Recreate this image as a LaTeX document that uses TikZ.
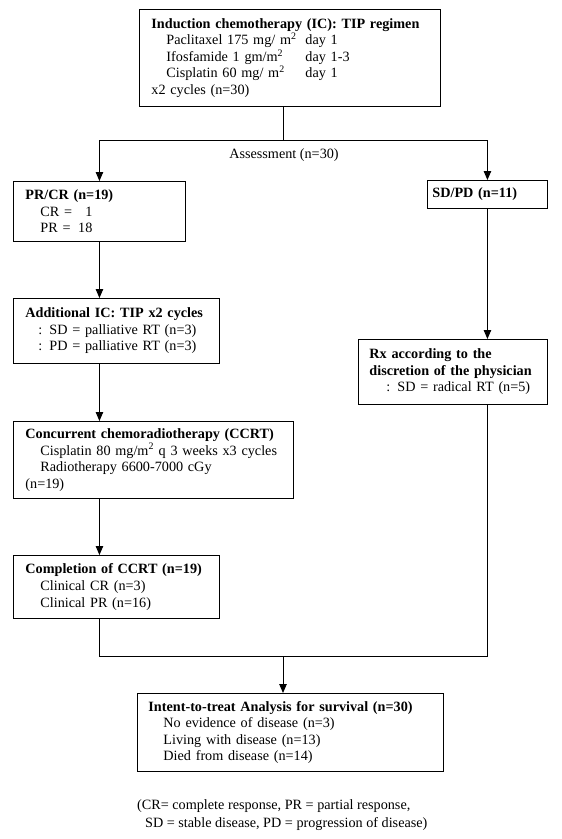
\documentclass[tikz,border=0pt]{standalone}
\usepackage{fontspec}
\setmainfont{Liberation Serif}
\usetikzlibrary{arrows.meta,calc}
\setlength{\parindent}{0pt}
\tikzset{
    block/.style = {draw, rectangle, line width=0.9pt,
        anchor=north west, align=left,
        inner xsep=12pt, inner ysep=0pt,
        font=\fontsize{14.2}{16.6}\selectfont},
    arrow/.style = {draw, line width=0.9pt, -{Triangle[length=9pt,width=7.5pt]}},
    line/.style = {draw, line width=0.9pt},
    plaintext/.style = {align=left, font=\fontsize{14.2}{16.6}\selectfont}
}
\newcommand{\subind}{\hspace*{15pt}}
\newcommand{\msq}{m\textsuperscript{2}}

\begin{document}
\begin{tikzpicture}[x=1pt,y=-1pt]
                \useasboundingbox (0,0) rectangle (562,839);
                % boxes
                \node[block, text width=277pt, minimum height=97pt] (ic) at (139,9) {\textbf{Induction chemotherapy (IC): TIP regimen}\\
                    \subind\makebox[139pt][l]{Paclitaxel 175 mg/ \msq}day 1\\
                    \subind\makebox[139pt][l]{Ifosfamide 1 gm/\msq}day 1-3\\
                    \subind\makebox[139pt][l]{Cisplatin 60 mg/ \msq}day 1\\
                    x2 cycles (n=30)};
                \node[block, text width=148pt, minimum height=60pt] (prcr) at (13,181) {\textbf{PR/CR (n=19)}\\
                    \subind\makebox[37pt][l]{CR =}\makebox[15pt][r]{1}\\
                    \subind\makebox[37pt][l]{PR =}\makebox[15pt][r]{18}};
                \node[block, inner xsep=5pt, text width=110pt, minimum height=28pt] (sdpd) at (427,180) {\textbf{SD/PD (n=11)}};
                \node[block, text width=182pt, minimum height=65pt] (addic) at (13,298) {\textbf{Additional IC: TIP x2 cycles}\\
                    \hspace*{13pt}: SD = palliative RT (n=3)\\
                    \hspace*{13pt}: PD = palliative RT (n=3)};
                \node[block, inner xsep=11pt, text width=167pt, minimum height=65pt] (rx) at (358,339) {\textbf{Rx according to the}\\
                    \textbf{discretion of the physician}\\
                    \hspace*{17pt}: SD = radical RT (n=5)};
                \node[block, text width=256pt, minimum height=77pt] (ccrt) at (13,421) {\textbf{Concurrent chemoradiotherapy (CCRT)}\\
                    \subind Cisplatin 80 mg/\msq{} q 3 weeks x3 cycles\\
                    \subind Radiotherapy 6600-7000 cGy\\
                    (n=19)};
                \node[block, text width=182pt, minimum height=63pt] (comp) at (13,555) {\textbf{Completion of CCRT (n=19)}\\
                    \subind Clinical CR (n=3)\\
                    \subind Clinical PR (n=16)};
                \node[block, inner xsep=11pt, text width=284pt, minimum height=78pt] (itt) at (137,693) {\textbf{Intent-to-treat Analysis for survival (n=30)}\\
                    \subind No evidence of disease (n=3)\\
                    \subind Living with disease (n=13)\\
                    \subind Died from disease (n=14)};
                % connectors
                \coordinate (assess) at (283,140);
                \coordinate (join) at (283,656);
                \draw[line] (ic.south -| assess) -- (assess);
                \draw[arrow] (assess) -| (prcr.north);
                \draw[arrow] (assess) -| (sdpd.north);
                \node[plaintext] (assesslbl) at ($(assess)+(1,15)$) {Assessment (n=30)};
                \draw[arrow] (prcr.south) -- (prcr.south |- addic.north);
                \draw[arrow] (addic.south -| prcr.south) -- (ccrt.north -| prcr.south);
                \draw[arrow] (ccrt.south -| prcr.south) -- (comp.north -| prcr.south);
                \draw[arrow] (sdpd.south) -- (sdpd.south |- rx.north);
                \draw[line] (comp.south -| prcr.south) |- (sdpd.south |- join) -- (sdpd.south |- rx.south);
                \draw[arrow] (join) -- (join |- itt.north);
                % footnote
                \node[plaintext, anchor=north west, inner sep=0pt] (note) at (137,799) {(CR= complete response, PR = partial response,\\[1.4pt]
                    \hspace*{8pt}SD = stable disease, PD = progression of disease)};
            \end{tikzpicture}
\end{document}
